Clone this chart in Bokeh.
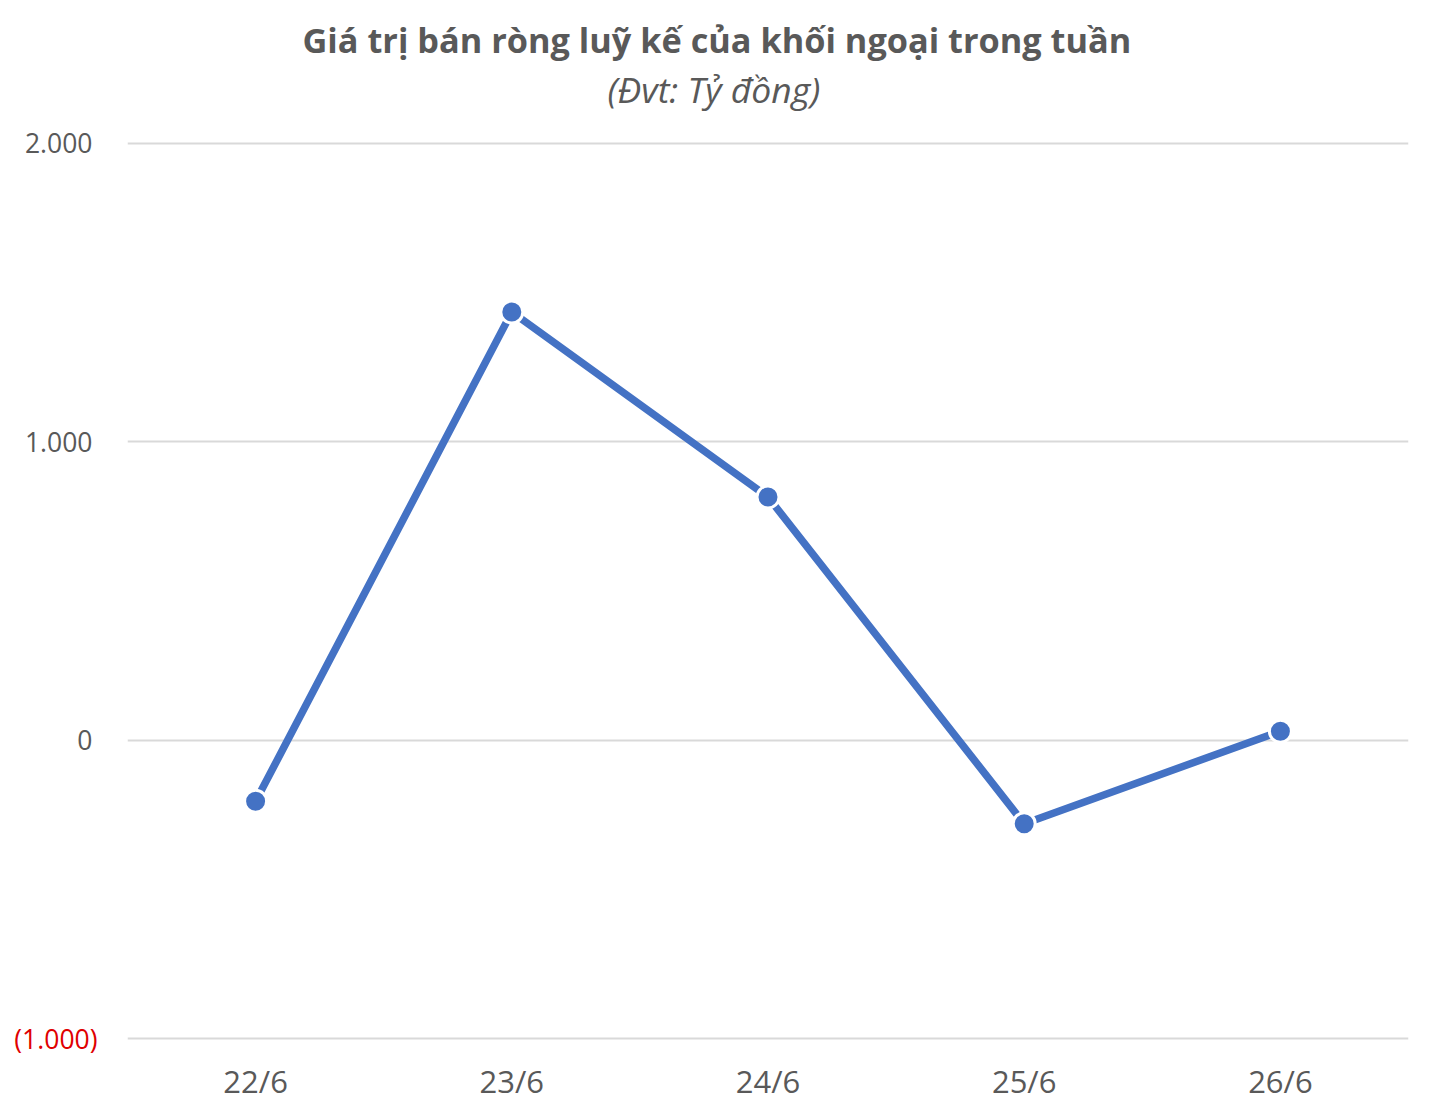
from bokeh.plotting import figure
from bokeh.models import FixedTicker, Title, LinearAxis, ColumnDataSource
from bokeh.embed import file_html
from bokeh.resources import INLINE

days = ["22/6", "23/6", "24/6", "25/6", "26/6"]
values = [-205, 1435, 815, -280, 30]
y_ticks = [0, 1000, 2000]
y_tick_labels = ["0", "1.000", "2.000"]
neg_ticks = [-1000]
neg_tick_labels = ["(1.000)"]
grid_ticks = [-1000, 0, 1000, 2000]
title_text = "Giá trị bán ròng luỹ kế của khối ngoại trong tuần"
subtitle_text = "(Đvt: Tỷ đồng)"

FONT = "Open Sans"
GRAY = "#595959"
BLUE = "#4472C4"

p = figure(x_range=days, y_range=(-1010, 2010), width=1424, height=1106,
           output_backend="svg", toolbar_location=None,
           min_border_left=127, min_border_right=16, min_border_top=140,
           min_border_bottom=65)
p.x_range.range_padding = 0
p.outline_line_color = None
p.background_fill_color = "white"
p.border_fill_color = "white"

# empty spacer between the frame and the subtitle
spacer = Title(text=" ", text_font_size="1px", standoff=25)
p.add_layout(spacer, "above")
sub = Title(text=subtitle_text, align="left", offset=480,
            text_font=FONT, text_font_style="italic", text_font_size="35.5px",
            text_color=GRAY, standoff=0)
p.add_layout(sub, "above")
ttl = Title(text=title_text, align="left", offset=175,
            text_font=FONT, text_font_style="bold", text_font_size="34.3px",
            text_color=GRAY, standoff=0)
p.add_layout(ttl, "above")

p.xgrid.grid_line_color = None
p.ygrid.ticker = FixedTicker(ticks=grid_ticks)
p.ygrid.grid_line_color = "#D9D9D9"
p.ygrid.grid_line_width = 2


def style_axis(ax, size, color, standoff):
    ax.axis_line_color = None
    ax.major_tick_line_color = None
    ax.minor_tick_line_color = None
    ax.major_tick_in = 0
    ax.major_tick_out = 0
    ax.major_label_standoff = standoff
    ax.major_label_text_font = FONT
    ax.major_label_text_font_size = size
    ax.major_label_text_color = color


yax = p.yaxis[0]
yax.ticker = FixedTicker(ticks=y_ticks)
yax.major_label_overrides = dict(zip(y_ticks, y_tick_labels))
style_axis(yax, "26.5px", GRAY, 35)

neg_ax = LinearAxis(ticker=FixedTicker(ticks=neg_ticks),
                    major_label_overrides=dict(zip(neg_ticks, neg_tick_labels)))
style_axis(neg_ax, "26.5px", "#E00000", -76)
p.add_layout(neg_ax, "left")

style_axis(p.xaxis[0], "31px", GRAY, 18)

src = ColumnDataSource(data=dict(day=days, value=values))
p.line(x="day", y="value", source=src, line_color=BLUE, line_width=7.5,
       line_join="round")
p.scatter(x="day", y="value", source=src, size=22, fill_color=BLUE,
          line_color="white", line_width=3)

open("out.html", "w").write(file_html(p, INLINE))
